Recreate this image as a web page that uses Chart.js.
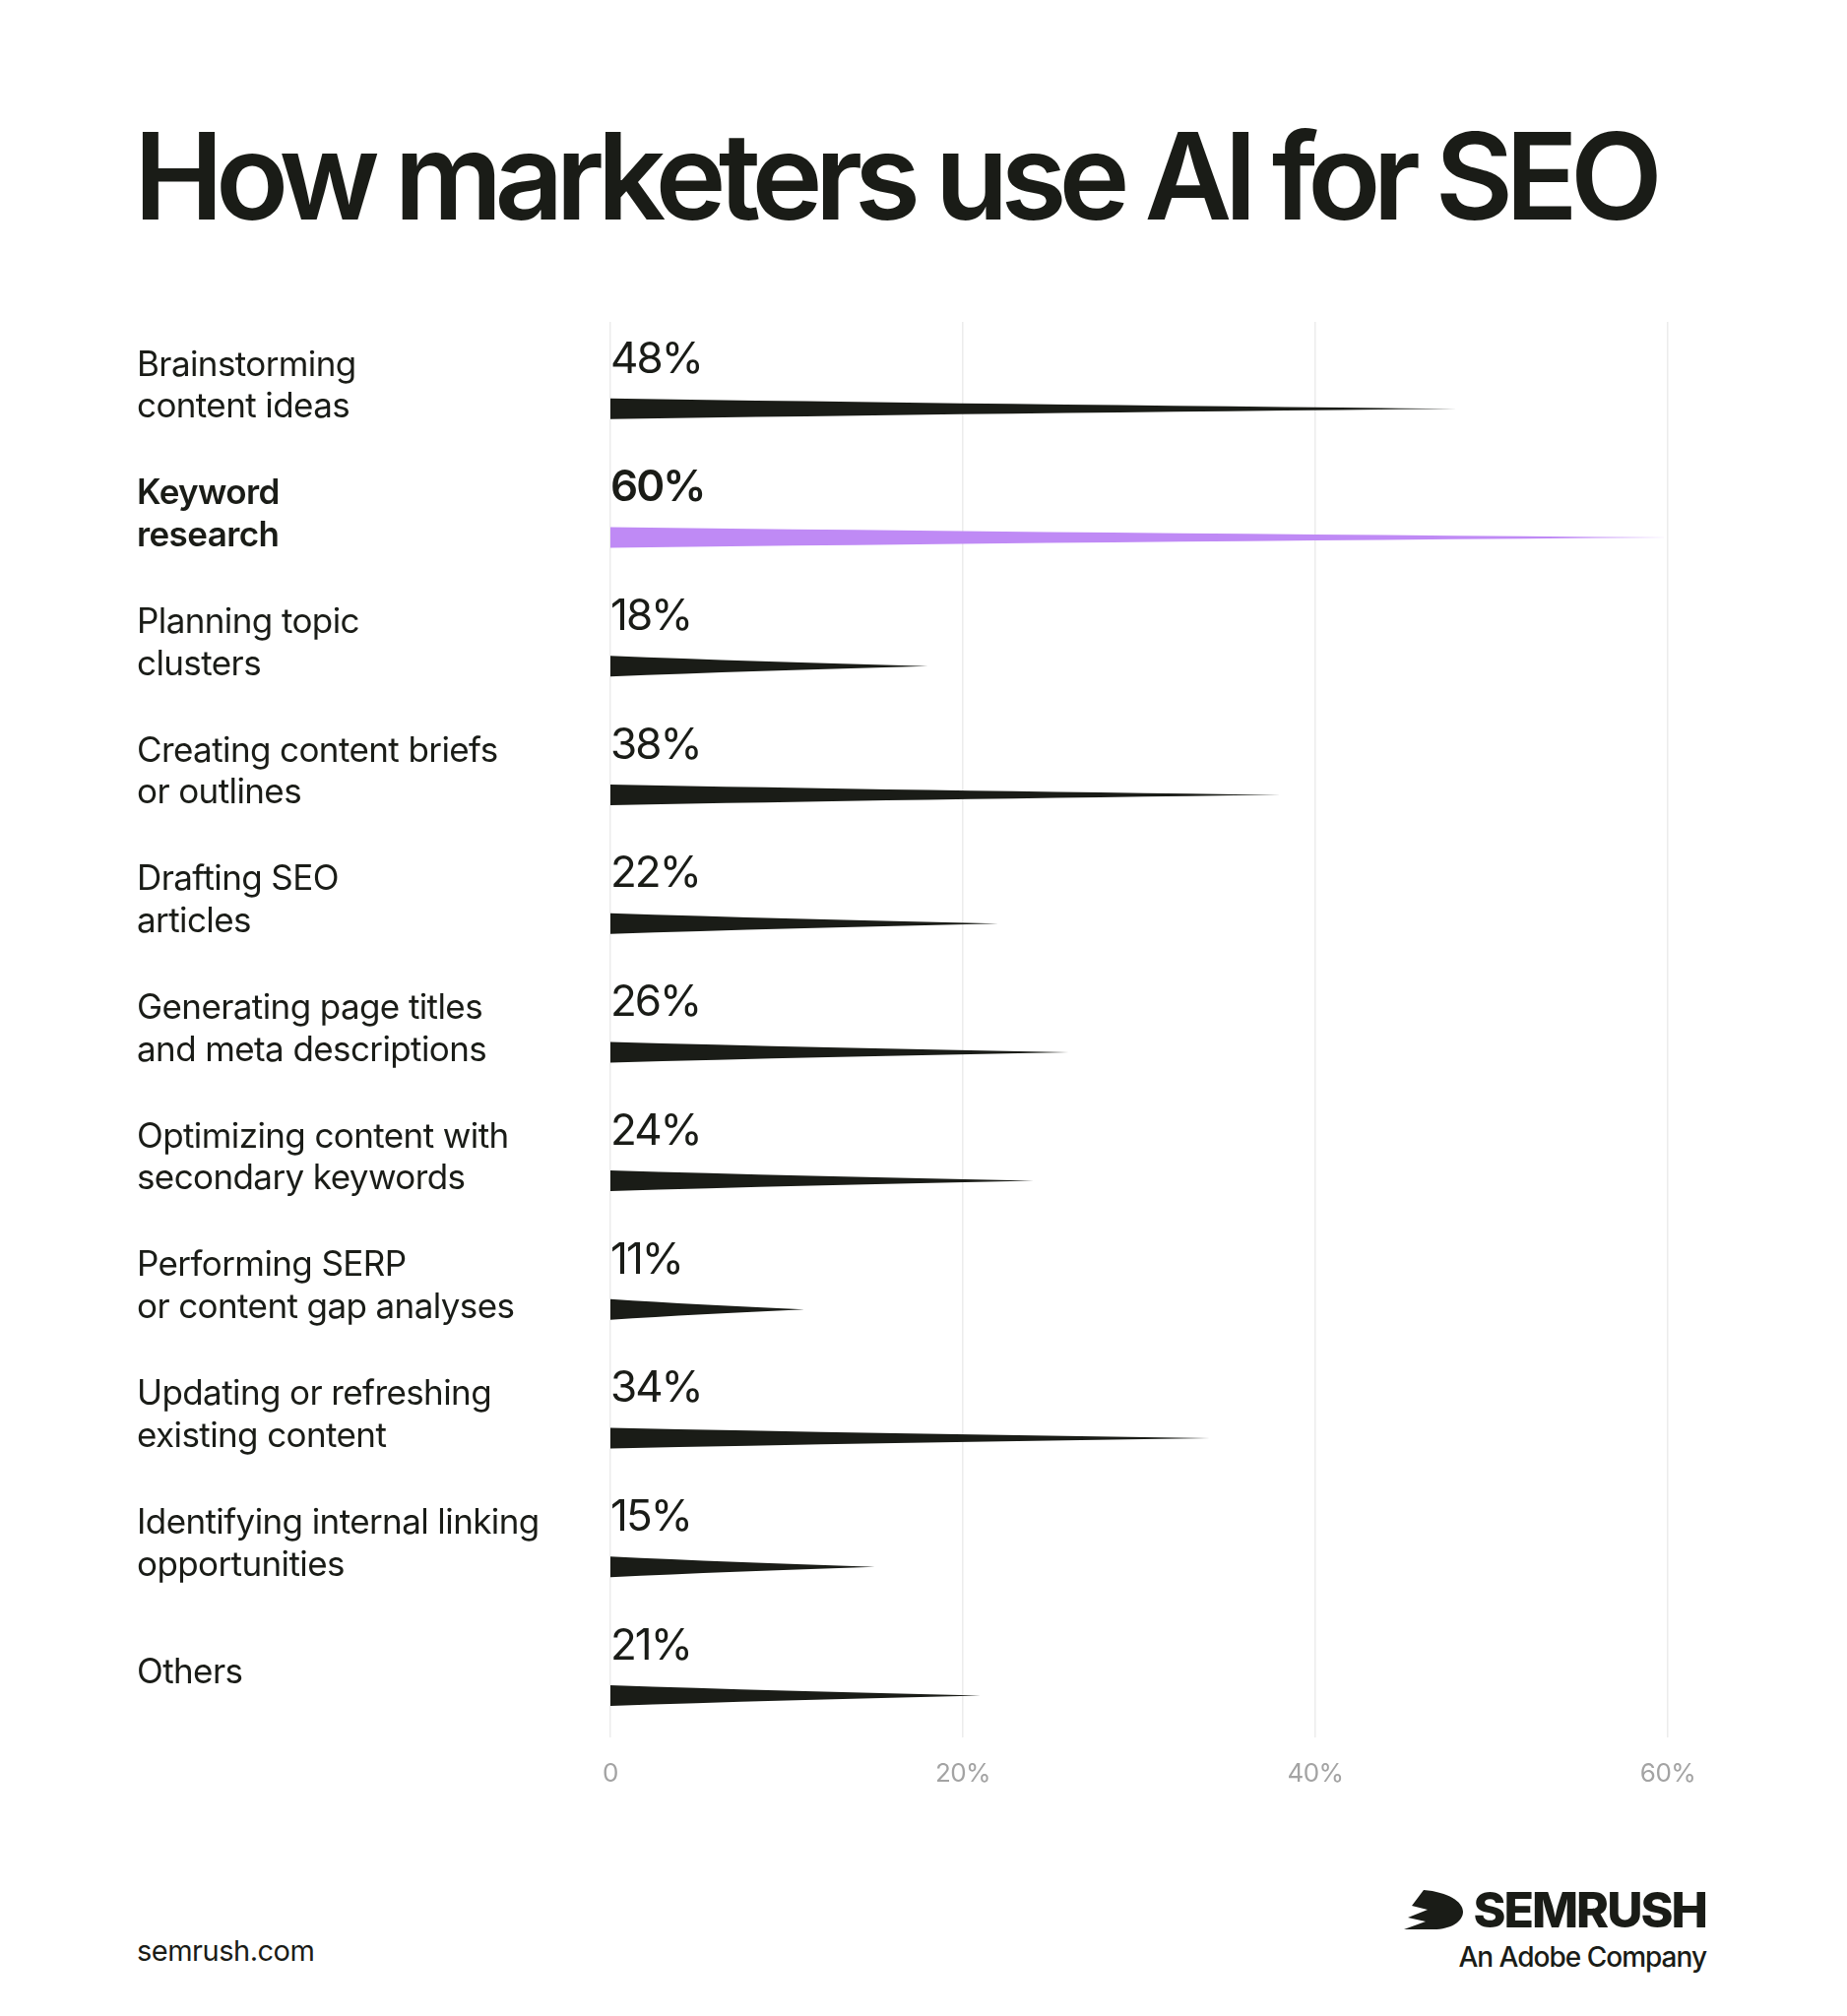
<!DOCTYPE html>
<html><head><meta charset="utf-8">
<script src="https://cdn.jsdelivr.net/npm/chart.js@4"></script>
<style>
html,body{margin:0;padding:0;background:#fff;width:1876px;height:2048px;overflow:hidden;font-family:Inter,"Noto Sans",sans-serif;color:#1a1c17}
#t{position:absolute;left:136px;top:118px;font-size:122px;font-weight:600;letter-spacing:-8px;margin:0;line-height:1}
#wrap{position:absolute;left:0;top:0;width:1876px;height:1840px}
#site{position:absolute;left:139px;top:1964px;font-size:29px;letter-spacing:-0.5px}
#logo{position:absolute;right:143px;top:1915px;text-align:right}
#logo .b{font-size:50px;font-weight:800;letter-spacing:-2px;line-height:1}
#logo .s{font-size:28px;font-weight:500;letter-spacing:-1px;margin-top:6px}
</style></head><body>
<h1 id="t">How marketers use AI for SEO</h1>
<div id="wrap"><canvas id="c" width="1876" height="1840"></canvas></div>
<div id="site">semrush.com</div>
<div id="logo"><div class="b"><svg width="62" height="40" viewBox="0 0 62 40" style="vertical-align:-2px;margin-right:8px"><path d="M20 0 C45 2 60 12 60 22 C60 32 48 40 30 40 L0 40 L22 32 L4 28 L24 20 L8 16 Z" fill="#1a1c17"/></svg>SEMRUSH</div><div class="s">An Adobe Company</div></div>
<script>
const categories=[["Brainstorming","content ideas"],["Keyword","research"],["Planning topic","clusters"],["Creating content briefs","or outlines"],["Drafting SEO","articles"],["Generating page titles","and meta descriptions"],["Optimizing content with","secondary keywords"],["Performing SERP","or content gap analyses"],["Updating or refreshing","existing content"],["Identifying internal linking","opportunities"],"Others"];
const values=[48,60,18,38,22,26,24,11,34,15,21];
const highlight=1;
const tickLabels={0:"0",20:"20%",40:"40%",60:"60%"};
const DARK="#1a1c17",PURPLE="#bf8af5";
const taper={id:'taper',
 beforeDraw(chart){chart.ctx.letterSpacing='-0.6px';},
 afterDatasetsDraw(chart){
 const ctx=chart.ctx,x=chart.scales.x,y=chart.scales.y;
 ctx.save();
 values.forEach((v,i)=>{
  const cy=y.getPixelForValue(i),x0=x.getPixelForValue(0),x1=x.getPixelForValue(v);
  const by=cy+23,h=21;
  ctx.fillStyle=i===highlight?PURPLE:DARK;
  ctx.beginPath();ctx.moveTo(x0,by-h/2);
  ctx.quadraticCurveTo(x0+(x1-x0)*0.45,by-h*0.22,x1,by);
  ctx.quadraticCurveTo(x0+(x1-x0)*0.45,by+h*0.22,x0,by+h/2);
  ctx.closePath();ctx.fill();
  ctx.fillStyle=DARK;
  ctx.letterSpacing='-2px';
  ctx.font=(i===highlight?"600 ":"400 ")+"44px Inter";
  ctx.textBaseline="middle";ctx.textAlign="left";
  ctx.fillText(v+"%",x0,cy-27);
 });
 ctx.restore();}};
new Chart(document.getElementById('c'),{type:'bar',
 data:{labels:categories,datasets:[{data:values,backgroundColor:'rgba(0,0,0,0)'}]},
 plugins:[taper],
 options:{indexAxis:'y',responsive:false,animation:false,devicePixelRatio:1,
  layout:{padding:{left:139,right:182,top:327,bottom:0}},
  plugins:{legend:{display:false},tooltip:{enabled:false}},
  scales:{
   x:{min:0,max:60,border:{display:false},grid:{color:'#ececec',lineWidth:1.5,drawTicks:false},
      ticks:{stepSize:20,padding:22,color:'#a3a3a3',font:{size:26,family:'Inter'},callback:v=>tickLabels[v]}},
   y:{border:{display:false},grid:{display:false},
      afterFit(s){s.width=481;},
      ticks:{crossAlign:'far',color:DARK,padding:0,
       font:c=>({size:35,family:'Inter',weight:c.index===highlight?'600':'400',lineHeight:1.22})}}
  }}});
</script>
</body></html>
